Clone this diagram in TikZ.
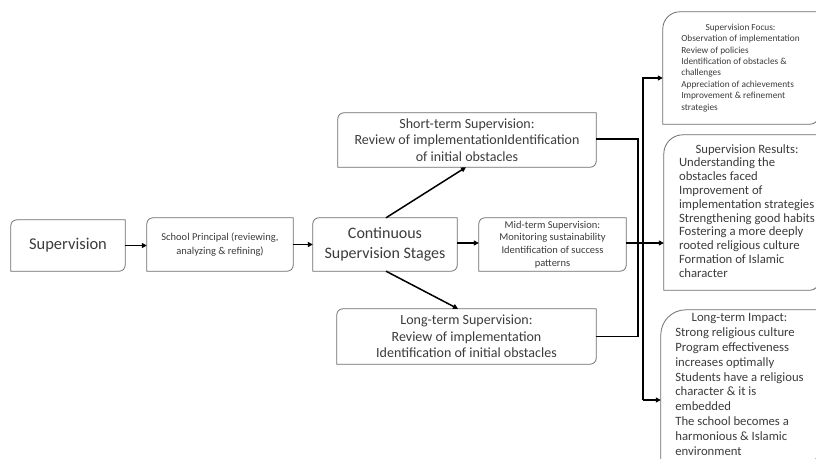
\documentclass[tikz,border=0pt]{standalone}
\usepackage{fontspec}
\setmainfont{Carlito}
\usetikzlibrary{arrows.meta}
\definecolor{boxgray}{HTML}{6E6E6E}
\definecolor{txtgray}{HTML}{3C3C3C}
\newcommand\rdshape[3]{%
  \draw[boxline] (#1.south west) -- ([yshift=-#2]#1.north west)
    arc[start angle=180,end angle=90,radius=#2] -- (#1.north east)
    -- ([yshift=#3]#1.south east) arc[start angle=0,end angle=-90,radius=#3] -- cycle;}
\begin{document}
\begin{tikzpicture}[x=1pt,y=1pt,
  boxline/.style={draw=boxgray,line width=0.8pt},
  rdbox/.style={draw=none,inner sep=0pt,align=center,text=txtgray},
  conn/.style={draw=black,line width=1.5pt},
  arr/.style={conn,-{Triangle[length=5pt,width=5pt]}}]
\fill[white] (0,0) rectangle (816,458);
\useasboundingbox (0,0) rectangle (816,458);
\clip (0,0) rectangle (816,458);

% left chain
\node[rdbox,minimum width=114pt,minimum height=51pt,font=\fontsize{16.5}{20}\selectfont] (sup) at (68,212.5) {Supervision};
\node[rdbox,minimum width=146pt,minimum height=53pt,font=\fontsize{10.5}{14}\selectfont] (sp) at (220,213.5) {School Principal (reviewing,\\analyzing \& refining)};
\node[rdbox,minimum width=144pt,minimum height=53pt,font=\fontsize{16}{20}\selectfont] (cont) at (385,213.5) {Continuous\\Supervision Stages};
\node[rdbox,minimum width=147pt,minimum height=53pt,font=\fontsize{10.5}{12.8}\selectfont] (mid) at (552.5,213.5) {Mid-term Supervision:\\Monitoring sustainability\\Identification of success\\patterns};
\node[rdbox,minimum width=258pt,minimum height=54pt,font=\fontsize{14}{16.5}\selectfont] (short) at (467,318) {Short-term Supervision:\\Review of implementationIdentification\\of initial obstacles};
\node[rdbox,minimum width=259pt,minimum height=55pt,font=\fontsize{14}{16.5}\selectfont] (long) at (466.5,121.5) {Long-term Supervision:\\Review of implementation\\Identification of initial obstacles};

% right boxes
\node[rdbox,minimum width=155pt,minimum height=112pt,font=\fontsize{9.3}{11.4}\selectfont] (focus) at (740.5,390)
 {\begin{tabular}{@{}l@{}}\multicolumn{1}{c}{Supervision Focus:}\\Observation of implementation\\Review of policies\\Identification of obstacles \&\\challenges\\Appreciation of achievements\\Improvement \& refinement\\strategies\end{tabular}};
\node[rdbox,minimum width=154pt,minimum height=155pt,font=\fontsize{12.7}{13.8}\selectfont] (results) at (741,245.5)
 {\hspace*{12pt}\begin{tabular}{@{}l@{}}\multicolumn{1}{c}{Supervision Results:}\\Understanding the\\obstacles faced\\Improvement of\\implementation strategies\\Strengthening good habits\\Fostering a more deeply\\rooted religious culture\\Formation of Islamic\\character\end{tabular}};
\node[rdbox,minimum width=157pt,minimum height=151pt,font=\fontsize{12.7}{14.8}\selectfont] (impact) at (739.5,72.5)
 {\begin{tabular}{@{}l@{}}\multicolumn{1}{c}{Long-term Impact:}\\Strong religious culture\\Program effectiveness\\increases optimally\\Students have a religious\\character \& it is\\embedded\\The school becomes a\\harmonious \& Islamic\\environment\end{tabular}};

\rdshape{sup}{6pt}{6pt}
\rdshape{sp}{6pt}{6pt}
\rdshape{cont}{6pt}{6pt}
\rdshape{mid}{6pt}{6pt}
\rdshape{short}{6pt}{6pt}
\rdshape{long}{6pt}{6pt}
\rdshape{focus}{17pt}{8pt}
\rdshape{results}{19pt}{8pt}
\rdshape{impact}{25pt}{8pt}

% connectors
\draw[arr] (sup.east) -- (sup.east -| sp.west);
\draw[arr] (sp.east) -- (sp.east -| cont.west);
\draw[arr] ([yshift=1.5pt]cont.east) -- ([yshift=1.5pt]cont.east -| mid.west);
\draw[arr] ([xshift=1pt]cont.north) -- ([xshift=-1pt]short.south);
\draw[arr] ([xshift=1pt]cont.south) -- ([xshift=-8.5pt]long.north);
\coordinate (jx) at (638,0);
\draw[conn,line join=miter] ([yshift=1pt]short.east) -| (jx |- long.east) -- (long.east);
\draw[arr] ([yshift=1.5pt]mid.east) -- ([yshift=1.5pt]mid.east -| results.west);
\coordinate (btop) at (643,380);
\coordinate (bbot) at (643,58);
\draw[arr] (bbot) -- (bbot -| impact.west);
\draw[arr] (bbot) |- (btop -| focus.west);
\end{tikzpicture}
\end{document}
